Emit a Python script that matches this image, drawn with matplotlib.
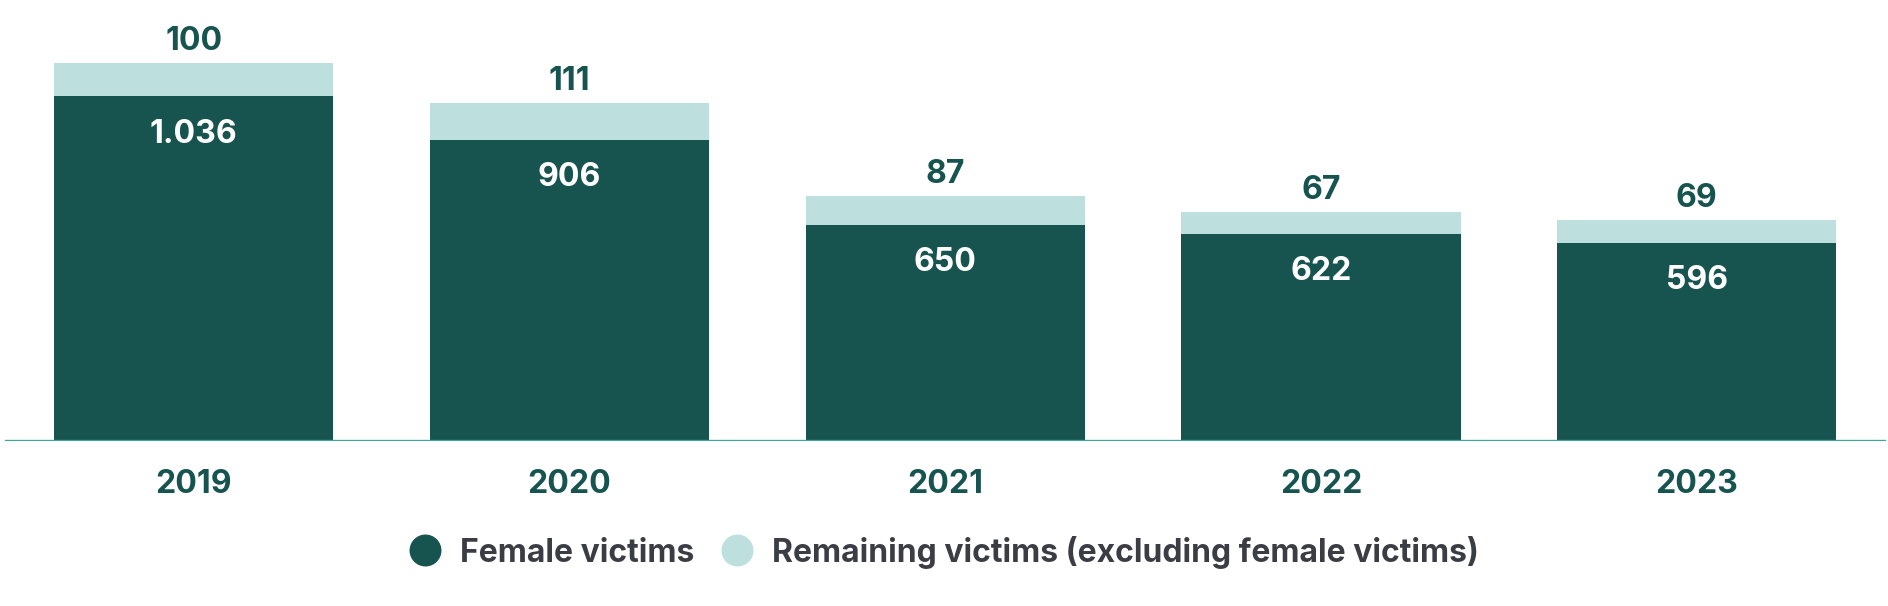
import matplotlib
matplotlib.use("Agg")
import matplotlib.pyplot as plt
from matplotlib.lines import Line2D

years = ["2019", "2020", "2021", "2022", "2023"]
female = [1036, 906, 650, 622, 596]
remaining = [100, 111, 87, 67, 69]
female_labels = ["1.036", "906", "650", "622", "596"]

DARK = "#18544f"
LIGHT = "#bde0de"
AXIS = "#3aa89f"
LEGEND_TXT = "#3b3d45"

plt.rcParams["font.family"] = ["Inter", "DejaVu Sans"]

fig = plt.figure(figsize=(18.88, 6.06), dpi=100)
ax = fig.add_axes([0, 0.2723, 1, 0.7277])

x = list(range(len(years)))
ax.bar(x, female, width=0.743, color=DARK, zorder=2)
ax.bar(x, remaining, width=0.743, bottom=female, color=LIGHT, zorder=2)

for i in x:
    top = female[i] + remaining[i]
    ax.text(i, top + 65, f"{remaining[i]}", ha="center", va="center",
            fontsize=23, fontweight="bold", color=DARK)
    ax.text(i, female[i] - 113, female_labels[i], ha="center", va="center",
            fontsize=23, fontweight="bold", color="white")
    ax.text(i, -131, years[i], ha="center", va="center",
            fontsize=23, fontweight="bold", color=DARK, clip_on=False)

ax.set_xlim(-0.516, 4.509)
ax.set_ylim(0, 1326)
ax.axhline(0, xmin=0.003, xmax=0.998, color=AXIS, lw=2.4, zorder=3)
ax.axis("off")

handles = [
    Line2D([], [], marker="o", ls="", markersize=22, color=DARK),
    Line2D([], [], marker="o", ls="", markersize=22, color=LIGHT),
]
leg = fig.legend(handles, ["Female victims", "Remaining victims (excluding female victims)"],
                 loc="center", bbox_to_anchor=(0.500, 0.089), ncol=2, frameon=False,
                 handletextpad=0.6, columnspacing=0.85, handlelength=1.0,
                 prop={"size": 23, "weight": "bold"})
for t in leg.get_texts():
    t.set_color(LEGEND_TXT)

fig.savefig("out.png", dpi=100)
